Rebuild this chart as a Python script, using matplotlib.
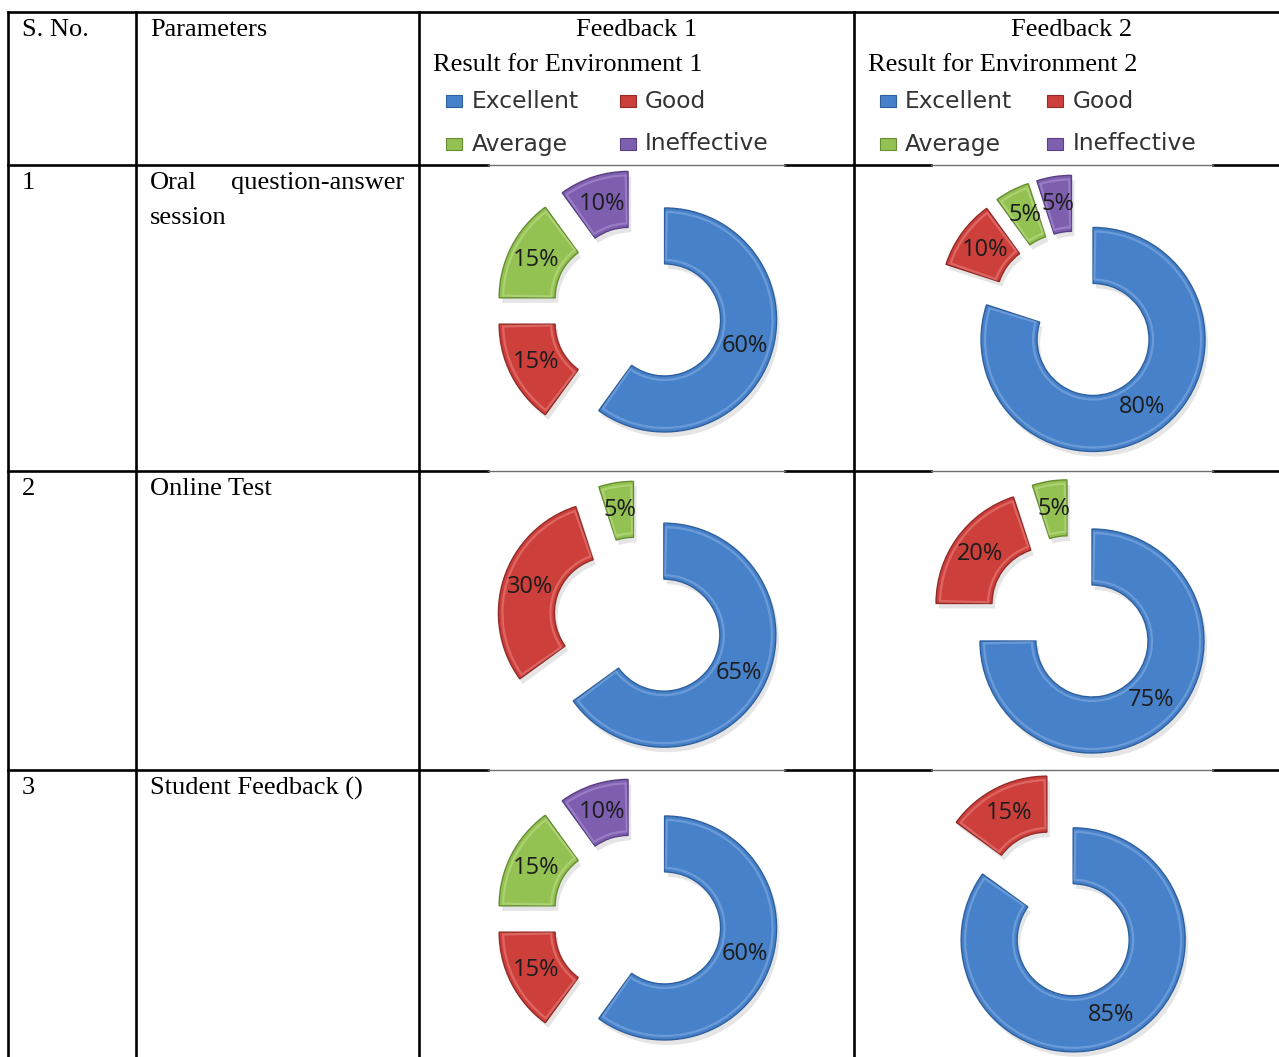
import matplotlib
matplotlib.use("Agg")
import matplotlib.pyplot as plt
from matplotlib.patches import Rectangle, Wedge

# ---------------- data ----------------
categories = ["Excellent", "Good", "Average", "Ineffective"]
headers = ["S. No.", "Parameters", "Feedback 1", "Feedback 2"]
subtitles = ["Result for Environment 1", "Result for Environment 2"]
serial_numbers = ["1", "2", "3"]
parameter_lines = [["Oral question-answer", "session"],
                   ["Online Test"],
                   ["Student Feedback ()"]]
env1_values = [[60, 15, 15, 10],
               [65, 30, 5, 0],
               [60, 15, 15, 10]]
env2_values = [[80, 10, 5, 5],
               [75, 20, 5, 0],
               [85, 15, 0, 0]]

# ---------------- style ----------------
colors = ["#4781C9", "#CD3F3B", "#93C152", "#7E5FAF"]
edge_colors = ["#2D5F9E", "#922B27", "#678D33", "#574083"]
light_colors = ["#8DB6E8", "#EE8E8A", "#C5E393", "#B49ADB"]
SERIF = "Liberation Serif"
SANS = "Open Sans"
LEG_FONT = "DejaVu Sans"

W, H = 1279, 1057
fig = plt.figure(figsize=(W / 100, H / 100), dpi=100)
ax = fig.add_axes([0, 0, 1, 1])


def Y(y):
    return H - y


# ---------------- table grid ----------------
col_x = [8, 136, 419, 854, 1289]
row_y = [12, 165, 471, 770, 1057]
BLACK_LW = 1.9
for x in col_x[:4]:
    ax.plot([x, x], [Y(row_y[0]), Y(row_y[-1])], color="black", lw=BLACK_LW,
            solid_capstyle="projecting", zorder=2)
ax.plot([col_x[0], W], [Y(row_y[0]), Y(row_y[0])], color="black", lw=BLACK_LW,
        solid_capstyle="projecting", zorder=2)
# inner horizontal lines are partly covered by the chart pictures (thin grey)
chart_spans = [(488, 785), (931, 1213)]
for y in row_y[1:4]:
    segs = [(col_x[0], chart_spans[0][0]), (chart_spans[0][1], chart_spans[1][0]),
            (chart_spans[1][1], W)]
    for a, b in segs:
        ax.plot([a, b], [Y(y), Y(y)], color="black", lw=BLACK_LW, zorder=2)
    for a, b in chart_spans:
        ax.plot([a, b], [Y(y), Y(y)], color="#6f6f6f", lw=1.0, zorder=2)

# ---------------- header text ----------------
FS = 19
ax.text(22, Y(30), headers[0], fontsize=FS, family=SERIF, va="center", ha="left")
ax.text(150, Y(30), headers[1], fontsize=FS, family=SERIF, va="center", ha="left")
for i, (cx0, cx1) in enumerate([(col_x[2], col_x[3]), (col_x[3], col_x[4])]):
    ax.text((cx0 + cx1) / 2, Y(30), headers[2 + i], fontsize=FS, family=SERIF,
            va="center", ha="center")
    ax.text(cx0 + 14, Y(65), subtitles[i], fontsize=FS, family=SERIF,
            va="center", ha="left")

# legends
leg_cols = [[(446, 472), (620, 645)], [(880, 905), (1047, 1073)]]
leg_rows = [101, 144]
for lc in leg_cols:
    for k, cat in enumerate(categories):
        r, c = divmod(k, 2)
        mx, tx = lc[c]
        yy = leg_rows[r]
        ax.add_patch(Rectangle((mx, Y(yy) - 6), 16, 12, facecolor=colors[k],
                               edgecolor=edge_colors[k], lw=0.8, zorder=3))
        ax.text(tx, Y(yy), cat, fontsize=16.8, family=LEG_FONT, color="#333333",
                va="center", ha="left")

# ---------------- body text ----------------
line_step = 35
for i in range(3):
    top = row_y[i + 1] + 18
    ax.text(22, Y(top), serial_numbers[i], fontsize=FS, family=SERIF,
            va="center", ha="left")
    lines = parameter_lines[i]
    for j, line in enumerate(lines):
        yy = Y(top + j * line_step)
        words = line.split(" ")
        if j < len(lines) - 1 and len(words) > 1:
            # justified line
            ax.text(150, yy, words[0], fontsize=FS, family=SERIF, va="center", ha="left")
            ax.text(404, yy, " ".join(words[1:]), fontsize=FS, family=SERIF,
                    va="center", ha="right")
        else:
            ax.text(150, yy, line, fontsize=FS, family=SERIF, va="center", ha="left")

# ---------------- doughnuts ----------------
centers = [[(637, 311), (1076, 316)],
           [(638, 622), (1071.5, 620.5)],
           [(637, 919), (1060, 914)]]
R = 112
RING = 56
EXPLODE = 29
for i in range(3):
    for j, values in enumerate([env1_values[i], env2_values[i]]):
        idx = [k for k, v in enumerate(values) if v > 0]
        vals = [values[k] for k in idx]
        cx, cy = centers[i][j]
        wedges, texts, autotexts = ax.pie(
            vals, colors=[colors[k] for k in idx], startangle=90, counterclock=False,
            radius=R, center=(cx, Y(cy)), explode=[EXPLODE] * len(vals),
            wedgeprops=dict(width=RING, linewidth=1.0),
            autopct=lambda p: f"{p:.0f}%", pctdistance=0.75,
            textprops=dict(fontsize=17, family=SANS, color="#1c1c1c"),
            frame=True)
        for w, k in zip(wedges, idx):
            w.set_edgecolor(edge_colors[k])
            w.set_zorder(3)
            # soft shadow
            wx, wy = w.center
            sh = Wedge((wx + 3, wy - 5), w.r, w.theta1, w.theta2, width=w.width,
                       facecolor="#000000", alpha=0.10, lw=0, zorder=2.5)
            ax.add_patch(sh)
            # bevel highlight
            hl = Wedge((wx, wy), w.r - 4, w.theta1 + 1.2, w.theta2 - 1.2,
                       width=w.width - 8, facecolor="none",
                       edgecolor=light_colors[k], lw=1.6, alpha=0.5, zorder=3.2)
            ax.add_patch(hl)
        for t in autotexts:
            t.set_zorder(4)

ax.set_xlim(0, W)
ax.set_ylim(0, H)
ax.set_aspect("auto")
ax.axis("off")
fig.savefig("out.png", dpi=100, facecolor="white")
